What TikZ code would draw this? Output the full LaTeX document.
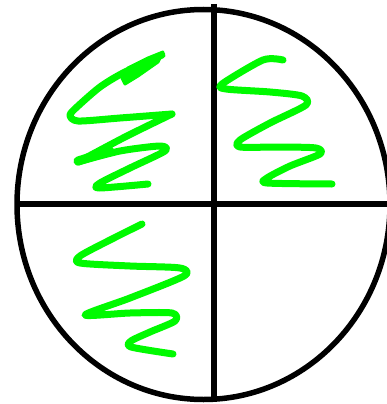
\documentclass[tikz,border=0pt]{standalone}
\definecolor{scribgreen}{RGB}{0,250,0}
\tikzset{
  outline/.style={line width=5.5pt, draw=black},
  divider/.style={line width=6pt, draw=black},
  scrib/.style={line width=7pt, draw=scribgreen, line cap=round, line join=round},
}
\begin{document}
\begin{tikzpicture}[x=1pt,y=-1pt]
\useasboundingbox (0,0) rectangle (387,404);
\fill[white] (0,0) rectangle (387,404);
\begin{scope}
\clip (0,0) rectangle (387,404);
\draw[outline] (203.5,204.5) ellipse [x radius=186.5, y radius=195];
\draw[divider] (214,4) -- (214,402);
\draw[divider] (17,204) -- (387,204);
% top-left scribble
\draw[scrib] plot[smooth, tension=0.45] coordinates {(162,55) (123,73) (100,87) (78,106) (70,115) (78,121) (120,118) (172,114)};
\draw[scrib] plot[smooth, tension=0.45] coordinates {(172,114) (125,137) (78,162)};
\draw[scrib] plot[smooth, tension=0.45] coordinates {(78,162) (120,151) (160,146) (165,151) (130,168) (100,183) (99,188) (148,184)};
\filldraw[scrib, fill=scribgreen, line width=3pt] (163,52) -- (148,58) -- (128,68) -- (122,78) -- (125,84) -- (138,76) -- (158,62) -- cycle;
\draw[scrib, line width=9pt] (78,161) -- (110,151);
% top-right scribble
\draw[scrib] plot[smooth, tension=0.45] coordinates {(283,60) (263,60) (222,84) (226,89) (270,92) (302,96) (306,105) (270,123) (240,140) (240,147) (280,147) (316,148) (320,154) (290,166) (267,178) (267,183) (332,184)};
% bottom-left scribble
\draw[scrib] plot[smooth, tension=0.45] coordinates {(142,224) (110,240) (80,256) (80,263) (130,266) (180,268) (184,276) (130,298) (85,315) (130,313) (172,313) (175,321) (150,332) (131,341) (131,347) (173,354)};
\end{scope}
\end{tikzpicture}
\end{document}
